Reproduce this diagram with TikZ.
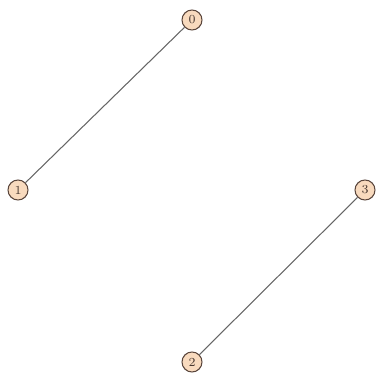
\documentclass[tikz,border=0pt]{standalone}
\usepackage{tikz}
\usetikzlibrary{positioning}
\definecolor{nodefill}{RGB}{248,218,190}
\definecolor{nodeline}{RGB}{90,70,60}

\begin{document}
\begin{tikzpicture}[every node/.style={font=\scriptsize}]
        \useasboundingbox (0,0) rectangle (7.5,7.62);
        \tikzset{vtx/.style={draw=nodeline, fill=nodefill, circle, semithick, minimum size=0.4cm, inner sep=0pt, text=nodeline!80!black}}
        \node[vtx] (n0) at (3.84,7.22) {0};
        \node[vtx] (n1) at (0.36,3.82) {1};
        \node[vtx] (n2) at (3.84,0.38) {2};
        \node[vtx] (n3) at (7.30,3.82) {3};
        \foreach \i/\j in {n0/n1,n3/n2}
            \draw[gray!80!black, semithick] (\i) -- (\j);
    \end{tikzpicture}
\end{document}
